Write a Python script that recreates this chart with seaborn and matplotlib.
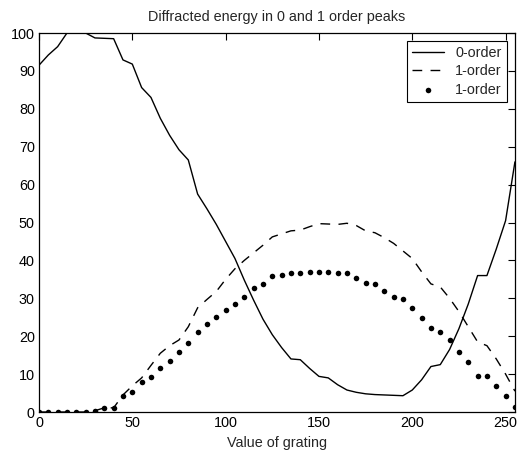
import matplotlib
matplotlib.use("Agg")
import matplotlib.pyplot as plt
import seaborn as sns
import numpy as np
import pandas as pd

# Data (x = value of grating, step 5)
grating = list(range(0, 256, 5))
order0 = [91.5, 94.2, 96.4, 100, 100, 100, 98.7, 98.6, 98.5, 92.9,
          91.8, 85.6, 83.0, 77.5, 73.0, 69.2, 66.5, 57.5, 53.6, 49.5,
          45.0, 40.5, 34.8, 29.5, 24.5, 20.4, 17.0, 14.0, 13.8, 11.5,
          9.4, 9.0, 7.2, 5.8, 5.2, 4.8, 4.6, 4.5, 4.4, 4.3,
          5.8, 8.5, 12.0, 12.5, 16.5, 22.0, 28.5, 36.0, 36.0, 43.0,
          50.5, 66.0]
order1_line = [0, 0, 0, 0, 0, 0, 0.35, 1.1, 1.1, 4.5,
               6.9, 9.0, 12.3, 15.5, 17.5, 19.0, 22.5, 27.5, 29.7, 31.8,
               35.0, 37.8, 40.0, 42.0, 44.0, 46.2, 47.0, 47.8, 48.0, 48.9,
               49.7, 49.6, 49.5, 49.8, 49.2, 47.8, 47.3, 46.0, 44.5, 42.5,
               40.5, 37.0, 33.8, 33.0, 30.0, 26.5, 22.5, 18.5, 17.5, 14.0,
               10.0, 5.5]
order1_dots = [0, 0, 0, 0, 0, 0, 0.35, 1.1, 1.1, 4.2,
               5.4, 8.0, 9.2, 11.6, 13.5, 15.8, 18.3, 21.0, 23.1, 25.1,
               27.0, 28.5, 30.4, 32.6, 33.8, 35.9, 36.1, 36.6, 36.8, 37.0,
               37.0, 37.0, 36.8, 36.8, 35.3, 34.0, 33.8, 32.0, 30.4, 29.8,
               27.4, 24.9, 22.1, 21.2, 19.0, 15.8, 13.3, 9.6, 9.6, 6.9,
               4.2, 1.4]
labels = ["0-order", "1-order", "1-order"]
xticks = [0, 50, 100, 150, 200, 250]
yticks = list(range(0, 101, 10))

df = pd.DataFrame({"grating": grating, "o0": order0,
                   "o1": order1_line, "o1d": order1_dots})

sns.set_style("white")
plt.rcParams['font.family'] = ['Liberation Sans', 'DejaVu Sans']

FS = 10.4
fig = plt.figure(figsize=(5.17, 4.54), dpi=100)
ax = fig.add_axes([0.0754, 0.0925, 0.9206, 0.8348])

sns.lineplot(data=df, x="grating", y="o0", ax=ax, color="black",
             linewidth=1.0, label=labels[0])
sns.lineplot(data=df, x="grating", y="o1", ax=ax, color="black",
             linewidth=1.0, label=labels[1], dashes=False)
ax.lines[-1].set_dashes([7, 6])
sns.scatterplot(data=df, x="grating", y="o1d", ax=ax, color="black",
                s=16, edgecolor="black", linewidth=0, label=labels[2])

ax.set_xlim(0, 255)
ax.set_ylim(0, 100)
ax.set_xticks(xticks)
ax.set_yticks(yticks)
ax.tick_params(direction="in", top=True, right=True, length=5,
               width=0.8, labelsize=FS, colors="black", pad=3)
for s in ax.spines.values():
    s.set_color("black")
    s.set_linewidth(0.9)

ax.set_title("Diffracted energy in 0 and 1 order peaks", fontsize=FS, pad=9)
ax.set_xlabel("Value of grating", fontsize=FS, labelpad=4)
ax.set_ylabel("")

leg = ax.legend(loc="upper right", fancybox=False, edgecolor="black",
                framealpha=1, fontsize=FS, borderaxespad=0.55,
                handlelength=2.2, labelspacing=0.3, borderpad=0.35,
                handletextpad=0.8)
leg.get_frame().set_linewidth(0.8)

fig.savefig("out.png", dpi=100)
